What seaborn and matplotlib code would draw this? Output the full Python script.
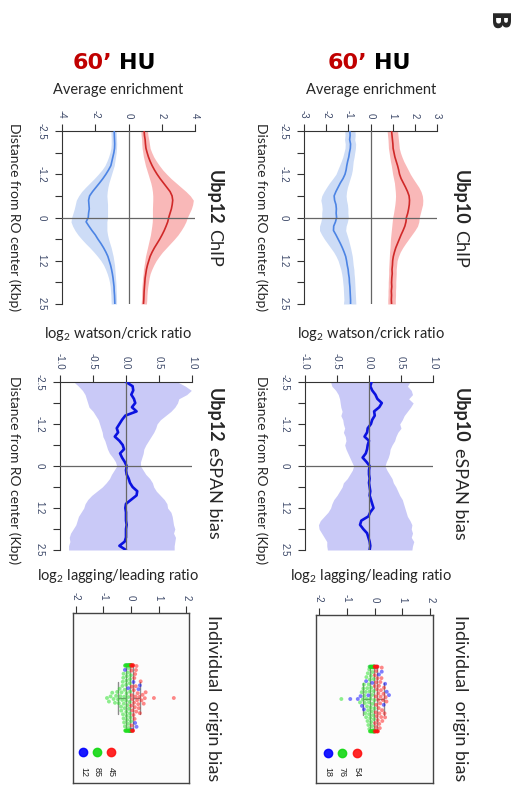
import warnings
warnings.filterwarnings("ignore")
import numpy as np
import pandas as pd
import matplotlib
matplotlib.use("Agg")
import matplotlib.pyplot as plt
import seaborn as sns

# ---------------- data ----------------
distance = [-2.5, -2.375, -2.25, -2.125, -2.0, -1.875, -1.75, -1.625, -1.5, -1.375,
            -1.25, -1.125, -1.0, -0.875, -0.75, -0.625, -0.5, -0.375, -0.25, -0.125,
            0.0, 0.125, 0.25, 0.375, 0.5, 0.625, 0.75, 0.875, 1.0, 1.125,
            1.25, 1.375, 1.5, 1.625, 1.75, 1.875, 2.0, 2.125, 2.25, 2.375, 2.5]
dist_ticks = [-2.5, -1.875, -1.25, -0.625, 0, 0.625, 1.25, 1.875, 2.5]
dist_labels = ["-2.5", "", "-1.2", "", "0", "", "1.2", "", "2.5"]

# Ubp10 ChIP
u10_red = [0.95, 0.97, 0.99, 1.01, 1.02, 1.06, 1.10, 1.16, 1.22, 1.27, 1.31, 1.38, 1.48, 1.58, 1.67, 1.74, 1.76, 1.75, 1.72, 1.68,
           1.62, 1.60, 1.55, 1.47, 1.38, 1.30, 1.22, 1.14, 1.08, 1.03, 1.00, 0.99, 0.97, 0.98, 0.96, 0.95, 0.96, 0.94, 0.95, 0.94, 0.95]
u10_red_lo = [0.75, 0.77, 0.79, 0.80, 0.81, 0.84, 0.87, 0.90, 0.94, 0.97, 1.00, 1.04, 1.08, 1.10, 1.12, 1.13, 1.12, 1.10, 1.07, 1.04,
              1.00, 0.98, 0.96, 0.94, 0.92, 0.90, 0.89, 0.88, 0.86, 0.85, 0.84, 0.83, 0.82, 0.82, 0.81, 0.80, 0.80, 0.79, 0.79, 0.78, 0.78]
u10_red_hi = [1.22, 1.24, 1.26, 1.28, 1.30, 1.35, 1.42, 1.50, 1.60, 1.70, 1.80, 1.92, 2.05, 2.18, 2.28, 2.34, 2.36, 2.35, 2.30, 2.25,
              2.20, 2.18, 2.12, 2.00, 1.86, 1.72, 1.58, 1.45, 1.34, 1.26, 1.20, 1.18, 1.16, 1.16, 1.15, 1.14, 1.14, 1.13, 1.13, 1.12, 1.12]
u10_blue = [-0.93, -0.92, -0.94, -0.90, -0.91, -0.95, -0.98, -1.03, -1.07, -1.10, -1.15, -1.24, -1.36, -1.46, -1.56, -1.64, -1.62, -1.56, -1.54, -1.55,
            -1.53, -1.58, -1.66, -1.67, -1.56, -1.46, -1.36, -1.27, -1.19, -1.12, -1.08, -1.05, -1.01, -0.99, -0.96, -0.95, -0.93, -0.92, -0.91, -0.90, -0.90]
u10_blue_lo = [-1.16, -1.15, -1.17, -1.14, -1.15, -1.20, -1.25, -1.32, -1.40, -1.48, -1.56, -1.70, -1.85, -1.98, -2.10, -2.20, -2.24, -2.20, -2.18, -2.20,
               -2.20, -2.24, -2.30, -2.30, -2.20, -2.08, -1.94, -1.80, -1.66, -1.55, -1.46, -1.40, -1.34, -1.30, -1.27, -1.25, -1.23, -1.22, -1.21, -1.20, -1.22]
u10_blue_hi = [-0.70, -0.69, -0.71, -0.67, -0.68, -0.71, -0.74, -0.78, -0.80, -0.82, -0.86, -0.92, -0.98, -1.04, -1.08, -1.10, -1.08, -1.04, -1.02, -1.02,
               -1.00, -1.04, -1.10, -1.12, -1.06, -1.00, -0.95, -0.90, -0.86, -0.82, -0.80, -0.78, -0.75, -0.74, -0.72, -0.71, -0.70, -0.69, -0.68, -0.67, -0.66]

# Ubp12 ChIP
u12_red = [0.94, 0.96, 1.00, 1.02, 1.05, 1.12, 1.20, 1.30, 1.42, 1.56, 1.72, 1.90, 2.10, 2.30, 2.50, 2.62, 2.66, 2.63, 2.58, 2.50,
           2.42, 2.36, 2.26, 2.15, 2.02, 1.88, 1.72, 1.56, 1.42, 1.30, 1.22, 1.14, 1.08, 1.04, 1.00, 0.98, 0.96, 0.94, 0.93, 0.92, 0.90]
u12_red_lo = [0.74, 0.76, 0.79, 0.80, 0.82, 0.86, 0.90, 0.96, 1.02, 1.10, 1.18, 1.26, 1.34, 1.40, 1.44, 1.46, 1.46, 1.45, 1.44, 1.44,
              1.44, 1.43, 1.40, 1.36, 1.32, 1.26, 1.20, 1.14, 1.08, 1.02, 0.98, 0.94, 0.90, 0.88, 0.85, 0.83, 0.81, 0.80, 0.79, 0.78, 0.76]
u12_red_hi = [1.14, 1.17, 1.22, 1.26, 1.30, 1.40, 1.52, 1.68, 1.86, 2.06, 2.30, 2.56, 2.86, 3.16, 3.46, 3.72, 3.90, 3.86, 3.78, 3.66,
              3.54, 3.45, 3.32, 3.16, 2.98, 2.76, 2.52, 2.28, 2.04, 1.84, 1.66, 1.52, 1.40, 1.30, 1.24, 1.20, 1.16, 1.13, 1.11, 1.10, 1.08]
u12_blue = [-0.86, -0.85, -0.84, -0.83, -0.84, -0.88, -0.94, -1.00, -1.06, -1.20, -1.36, -1.54, -1.74, -1.95, -2.16, -2.34, -2.40, -2.38, -2.36, -2.40,
            -2.42, -2.55, -2.38, -2.20, -2.00, -1.84, -1.66, -1.50, -1.36, -1.24, -1.16, -1.08, -1.02, -0.97, -0.93, -0.90, -0.87, -0.86, -0.84, -0.83, -0.82]
u12_blue_lo = [-1.06, -1.05, -1.04, -1.04, -1.06, -1.12, -1.20, -1.30, -1.42, -1.60, -1.82, -2.06, -2.32, -2.58, -2.82, -3.00, -3.14, -3.20, -3.26, -3.34,
               -3.42, -3.46, -3.36, -3.22, -3.04, -2.82, -2.58, -2.32, -2.08, -1.86, -1.66, -1.50, -1.38, -1.28, -1.20, -1.14, -1.10, -1.08, -1.06, -1.05, -1.04]
u12_blue_hi = [-0.74, -0.73, -0.72, -0.71, -0.72, -0.74, -0.78, -0.82, -0.86, -0.94, -1.02, -1.10, -1.18, -1.24, -1.28, -1.30, -1.28, -1.26, -1.26, -1.26,
               -1.26, -1.30, -1.30, -1.30, -1.26, -1.20, -1.12, -1.04, -0.98, -0.92, -0.88, -0.84, -0.82, -0.80, -0.78, -0.76, -0.75, -0.74, -0.73, -0.72, -0.72]

# eSPAN bias (log2 watson/crick)
u10_espan = [0.04, 0.02, 0.05, 0.10, 0.13, 0.20, 0.16, 0.08, 0.09, 0.05, 0.03, -0.02, -0.03, -0.07, 0.00, -0.02, -0.03, -0.05, -0.10, -0.04,
             0.01, 0.00, 0.00, 0.01, 0.00, 0.01, 0.02, 0.01, 0.03, 0.05, 0.07, 0.02, -0.01, -0.12, -0.14, -0.09, -0.03, -0.01, 0.01, 0.02, 0.01]
u10_espan_lo = [-0.60, -0.58, -0.52, -0.48, -0.46, -0.45, -0.44, -0.42, -0.44, -0.41, -0.40, -0.38, -0.40, -0.37, -0.36, -0.38, -0.36, -0.33, -0.30, -0.27,
                -0.24, -0.26, -0.30, -0.34, -0.40, -0.42, -0.46, -0.50, -0.55, -0.58, -0.60, -0.64, -0.70, -0.76, -0.79, -0.78, -0.74, -0.70, -0.66, -0.66, -0.65]
u10_espan_hi = [0.64, 0.60, 0.66, 0.68, 0.62, 0.69, 0.65, 0.60, 0.55, 0.52, 0.48, 0.50, 0.45, 0.42, 0.40, 0.36, 0.33, 0.32, 0.30, 0.27,
                0.25, 0.28, 0.32, 0.36, 0.38, 0.42, 0.45, 0.48, 0.52, 0.54, 0.56, 0.58, 0.60, 0.64, 0.67, 0.66, 0.68, 0.66, 0.70, 0.68, 0.67]
u12_espan = [0.00, 0.10, 0.11, 0.08, 0.12, 0.14, 0.09, 0.16, -0.01, -0.06, -0.10, -0.14, -0.12, -0.17, -0.10, -0.05, -0.03, -0.09, -0.06, -0.02,
             0.01, 0.00, 0.01, 0.04, 0.06, 0.10, 0.17, 0.16, 0.08, 0.00, -0.01, 0.00, 0.00, 0.00, 0.01, 0.00, 0.00, 0.00, -0.02, -0.10, 0.00]
u12_espan_lo = [-0.79, -0.72, -0.66, -0.62, -0.60, -0.58, -0.56, -0.50, -0.46, -0.42, -0.40, -0.38, -0.36, -0.35, -0.32, -0.30, -0.28, -0.25, -0.20, -0.16,
                -0.14, -0.18, -0.22, -0.25, -0.30, -0.36, -0.44, -0.52, -0.58, -0.62, -0.64, -0.68, -0.72, -0.74, -0.76, -0.80, -0.84, -0.86, -0.85, -0.87, -0.87]
u12_espan_hi = [0.78, 0.90, 0.99, 0.92, 0.80, 0.78, 0.74, 0.68, 0.60, 0.52, 0.47, 0.45, 0.42, 0.38, 0.34, 0.30, 0.27, 0.26, 0.24, 0.22,
                0.22, 0.26, 0.30, 0.36, 0.40, 0.42, 0.46, 0.52, 0.58, 0.62, 0.63, 0.68, 0.70, 0.71, 0.72, 0.74, 0.72, 0.75, 0.74, 0.73, 0.73]

# Individual origin bias (log2 lagging/leading)
u10_ori_blue = [-0.87, -0.60, -0.50, -0.45, -0.38, -0.30, -0.22, -0.15, -0.08,
                -0.03, 0.02, 0.08, 0.16, 0.26, 0.33, 0.38, 0.44, 0.52]
u10_ori_green = [-1.19, -0.52, -0.46, -0.42, -0.40, -0.38, -0.36, -0.345, -0.33, -0.315,
                 -0.30, -0.29, -0.28, -0.27, -0.26, -0.25, -0.24, -0.23, -0.22, -0.21,
                 -0.20, -0.195, -0.19, -0.185, -0.18, -0.175, -0.17, -0.165, -0.16, -0.155,
                 -0.15, -0.145, -0.14, -0.135, -0.13, -0.125, -0.12, -0.115, -0.11, -0.105,
                 -0.10, -0.095, -0.09, -0.085, -0.08, -0.075, -0.07, -0.065, -0.06, -0.055,
                 -0.05, -0.047, -0.044, -0.041, -0.038, -0.035, -0.032, -0.029, -0.026, -0.023,
                 -0.02, -0.018, -0.016, -0.014, -0.012, -0.01, -0.008, -0.006, -0.004, -0.002,
                 0.00, -0.11, -0.09, -0.07, -0.05, -0.03]
u10_ori_red = [0.00, 0.004, 0.008, 0.012, 0.016, 0.02, 0.024, 0.028, 0.032, 0.036,
               0.04, 0.045, 0.05, 0.055, 0.06, 0.065, 0.07, 0.075, 0.08, 0.085,
               0.09, 0.095, 0.10, 0.105, 0.11, 0.115, 0.12, 0.13, 0.14, 0.15,
               0.16, 0.17, 0.18, 0.19, 0.20, 0.21, 0.22, 0.23, 0.24, 0.25,
               0.26, 0.27, 0.28, 0.30, 0.32, 0.34, 0.36, 0.38, 0.40, 0.43,
               0.03, 0.06, 0.09, 0.12]
u12_ori_blue = [-0.22, -0.15, -0.10, -0.06, -0.03, 0.00, 0.04, 0.09, 0.15, 0.20, 0.27, 0.32]
u12_ori_green = [-0.87, -0.80, -0.74, -0.68, -0.63, -0.58, -0.54, -0.50, -0.47, -0.44,
                 -0.41, -0.38, -0.36, -0.34, -0.32, -0.30, -0.29, -0.28, -0.27, -0.26,
                 -0.25, -0.24, -0.23, -0.22, -0.215, -0.21, -0.205, -0.20, -0.195, -0.19,
                 -0.185, -0.18, -0.175, -0.17, -0.165, -0.16, -0.155, -0.15, -0.145, -0.14,
                 -0.135, -0.13, -0.125, -0.12, -0.115, -0.11, -0.105, -0.10, -0.095, -0.09,
                 -0.085, -0.08, -0.075, -0.07, -0.065, -0.06, -0.055, -0.05, -0.045, -0.04,
                 -0.036, -0.032, -0.028, -0.024, -0.02, -0.016, -0.012, -0.008, -0.004, 0.00,
                 -0.35, -0.31, -0.27, -0.23, -0.19, -0.15, -0.11, -0.07, -0.05, -0.03,
                 -0.02, -0.015, -0.01, -0.005, -0.002]
u12_ori_red = [0.00, 0.005, 0.01, 0.015, 0.02, 0.025, 0.03, 0.035, 0.04, 0.045,
               0.05, 0.055, 0.06, 0.065, 0.07, 0.075, 0.08, 0.09, 0.10, 0.11,
               0.12, 0.13, 0.14, 0.15, 0.16, 0.17, 0.18, 0.19, 0.20, 0.22,
               0.24, 0.26, 0.28, 0.30, 0.32, 0.35, 0.38, 0.42, 0.46, 0.50,
               0.53, 0.02, 0.06, 0.83, 1.55]

chip_ticks_10 = [-3, -2, -1, 0, 1, 2, 3]
chip_ticks_12 = [-4, -2, 0, 2, 4]
espan_ticks = [-1.0, -0.5, 0.0, 0.5, 1.0]
espan_labels = ["-1.0", "-0.5", "0.0", "0.5", "1.0"]
ori_ticks = [-2, -1, 0, 1, 2]

# ---------------- style ----------------
sns.set_style("ticks")
plt.rcParams["font.family"] = ["Lato", "DejaVu Sans"]
plt.rcParams["mathtext.fontset"] = "custom"
plt.rcParams["mathtext.rm"] = "Lato"
plt.rcParams["mathtext.it"] = "Lato:italic"
plt.rcParams["mathtext.bf"] = "Lato:bold"

W, H = 521, 788
fig = plt.figure(figsize=(W / 100, H / 100), dpi=100)
fig.patch.set_facecolor("white")

TICK_COLOR = "#3c4868"
AX_COLOR = "#333333"
TICK_FONT = "Liberation Sans"


def px_axes(l, t, r, b):
    return fig.add_axes([l / W, 1 - b / H, (r - l) / W, (b - t) / H])


def ftext(x, y, s, **kw):
    return fig.text(x / W, 1 - y / H, s, **kw)


def style_line_axes(ax, xlim, xticks, xlabels):
    ax.set_xlim(xlim)
    ax.set_ylim(2.5, -2.5)
    for side in ["right", "bottom"]:
        ax.spines[side].set_visible(False)
    for side in ["left", "top"]:
        ax.spines[side].set_color(AX_COLOR)
        ax.spines[side].set_linewidth(0.8)
    ax.xaxis.tick_top()
    ax.set_xticks(xticks)
    ax.set_xticklabels(xlabels, rotation=-90, ha="center", va="bottom",
                       fontsize=7, family=TICK_FONT, color=TICK_COLOR)
    ax.set_yticks(dist_ticks)
    ax.set_yticklabels(dist_labels, rotation=-90, ha="right", va="center",
                       fontsize=7, family=TICK_FONT, color=TICK_COLOR)
    ax.tick_params(axis="x", length=5, width=0.8, color=AX_COLOR, pad=4)
    ax.tick_params(axis="y", length=5, width=0.8, color=AX_COLOR, pad=6)
    ax.set_xlabel("")
    ax.set_ylabel("")
    ax.set_facecolor("white")
    ax.axvline(0, color="#666666", lw=0.9, zorder=4)
    ax.axhline(0, color="#666666", lw=0.9, zorder=4)


def chip_panel(ax, red, red_lo, red_hi, blue, blue_lo, blue_hi, xlim, xticks):
    ax.fill_betweenx(distance, red_lo, red_hi, color="#f9b8b8", lw=0, zorder=1)
    ax.fill_betweenx(distance, blue_lo, blue_hi, color="#cddcf6", lw=0, zorder=1)
    sns.lineplot(x=red, y=distance, orient="y", sort=False, estimator=None,
                 color="#d02828", lw=1.2, ax=ax, zorder=3)
    sns.lineplot(x=blue, y=distance, orient="y", sort=False, estimator=None,
                 color="#4c84e4", lw=1.2, ax=ax, zorder=3)
    style_line_axes(ax, xlim, xticks, [str(t) for t in xticks])


def espan_panel(ax, mean, lo, hi):
    ax.fill_betweenx(distance, lo, hi, color="#c9c9f7", lw=0, zorder=1)
    sns.lineplot(x=mean, y=distance, orient="y", sort=False, estimator=None,
                 color="#0b12e0", lw=1.9, ax=ax, zorder=3)
    style_line_axes(ax, (-1.0, 1.0), espan_ticks, espan_labels)


def ori_panel(ax, blue, green, red, legend_x):
    df = pd.DataFrame({
        "value": blue + green + red,
        "group": ["blue"] * len(blue) + ["green"] * len(green) + ["red"] * len(red),
        "row": ["all"] * (len(blue) + len(green) + len(red)),
    })
    sns.boxplot(data=df, x="value", y="row", orient="h", fill=False, color="#8c8c8c",
                width=0.8, whis=(5, 95), showfliers=False, linewidth=1.0, ax=ax)
    sns.swarmplot(data=df, x="value", y="row", hue="group", orient="h",
                  palette={"blue": "#0000ff", "green": "#1fe01f", "red": "#ff1414"},
                  size=2.8, alpha=0.5, linewidth=0, ax=ax, legend=False)
    ax.set_xlim(-2.1, 2.1)
    ax.set_ylim(1.04, -1.04)
    ax.set_yticks([])
    ax.set_xlabel("")
    ax.set_ylabel("")
    ax.set_facecolor("#fcfcfc")
    for side in ax.spines:
        ax.spines[side].set_visible(True)
        ax.spines[side].set_color("#444444")
        ax.spines[side].set_linewidth(1.0)
    ax.xaxis.tick_top()
    ax.set_xticks(ori_ticks)
    ax.set_xticklabels([str(t) for t in ori_ticks], rotation=-90, ha="center", va="bottom",
                       fontsize=7, family=TICK_FONT, color=TICK_COLOR)
    ax.tick_params(axis="x", length=5, width=0.8, color=AX_COLOR, pad=4)
    for xf, col, n in zip(legend_x, ["#0000ff", "#12d812", "#ff1010"],
                          [len(blue), len(green), len(red)]):
        ax.plot(xf, 0.18, "o", color=col, ms=6, alpha=0.9, transform=ax.transAxes,
                clip_on=False)
        ax.text(xf, 0.065, str(n), rotation=-90, ha="center", va="center",
                transform=ax.transAxes, fontsize=6.5, family=TICK_FONT, color="#222222")


# ---------------- panels ----------------
a1 = px_axes(304, 131, 437, 304)
chip_panel(a1, u10_red, u10_red_lo, u10_red_hi, u10_blue, u10_blue_lo, u10_blue_hi,
           (-3, 3), chip_ticks_10)
a2 = px_axes(305, 382, 433, 550)
espan_panel(a2, u10_espan, u10_espan_lo, u10_espan_hi)
a3 = px_axes(316, 615, 433, 783)
ori_panel(a3, u10_ori_blue, u10_ori_green, u10_ori_red, [0.10, 0.225, 0.35])

b1 = px_axes(62, 131, 195, 304)
chip_panel(b1, u12_red, u12_red_lo, u12_red_hi, u12_blue, u12_blue_lo, u12_blue_hi,
           (-4, 4), chip_ticks_12)
b2 = px_axes(60, 382, 192, 550)
espan_panel(b2, u12_espan, u12_espan_lo, u12_espan_hi)
b3 = px_axes(73, 613, 189, 783)
ori_panel(b3, u12_ori_blue, u12_ori_green, u12_ori_red, [0.09, 0.21, 0.33])

# ---------------- texts ----------------
ftext(497, 22, "B", rotation=-90, ha="center", va="center", fontsize=18,
      fontweight="bold", family="DejaVu Sans")


def hu_title(x_split, y):
    t1 = ftext(x_split - 3, y, "60\u2019", ha="right", va="center", fontsize=16,
               fontweight="bold", family="DejaVu Sans", color="#c00000")
    a1.annotate("HU", xy=(1, 0.5), xycoords=t1, xytext=(5, 0), textcoords="offset points",
                ha="left", va="center", fontsize=16, fontweight="bold",
                family="DejaVu Sans", color="black", annotation_clip=False)


hu_title(370, 63)
hu_title(115, 63)

for xc in (371, 118):
    ftext(xc, 90, "Average enrichment", ha="center", va="center", fontsize=10.5)
    ftext(xc, 334, "log$_2$ watson/crick ratio", ha="center", va="center", fontsize=10.5)
    ftext(xc, 576, "log$_2$ lagging/leading ratio", ha="center", va="center", fontsize=10.5)

for xc in (261, 14):
    ftext(xc, 217, "Distance from RO center (Kbp)", rotation=-90, ha="center",
          va="center", fontsize=10)
    ftext(xc, 470, "Distance from RO center (Kbp)", rotation=-90, ha="center",
          va="center", fontsize=10)


def side_title(x, ytop, bold, regular, size=13):
    t1 = ftext(x, ytop, bold, rotation=-90, ha="center", va="top", fontsize=size,
               fontweight="bold")
    a1.annotate(regular, xy=(0.5, 0), xycoords=t1, xytext=(0, -3.5),
                textcoords="offset points", rotation=-90, ha="center", va="top",
                fontsize=size, annotation_clip=False)


side_title(460, 170, "Ubp10", "ChIP")
side_title(460, 388, "Ubp10", "eSPAN bias")
side_title(214, 170, "Ubp12", "ChIP")
side_title(214, 388, "Ubp12", "eSPAN bias")

ftext(460, 698, "Individual  origin bias", rotation=-90, ha="center", va="center", fontsize=13)
ftext(213, 698, "Individual  origin bias", rotation=-90, ha="center", va="center", fontsize=13)

fig.savefig("out.png", dpi=100, facecolor="white")
